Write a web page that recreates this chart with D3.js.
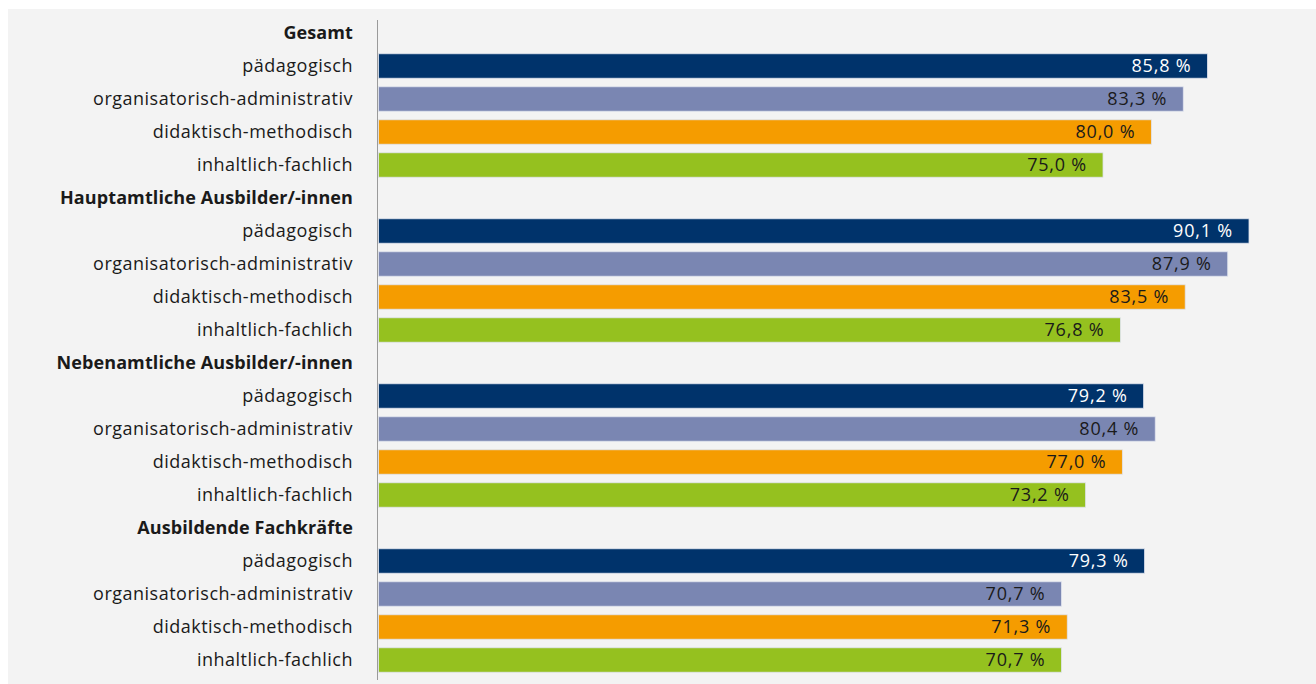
<!DOCTYPE html>
<html><head><meta charset="utf-8">
<script src="https://cdn.jsdelivr.net/npm/d3@7"></script>
<style>
body{margin:0;background:#fff;}
svg text{font-family:"Open Sans",sans-serif;}
</style></head>
<body><svg id="c" width="1316" height="684"></svg>
<script>
const groups = ["Gesamt","Hauptamtliche Ausbilder/-innen","Nebenamtliche Ausbilder/-innen","Ausbildende Fachkräfte"];
const categories = ["pädagogisch","organisatorisch-administrativ","didaktisch-methodisch","inhaltlich-fachlich"];
const valuesGesamt = [85.8, 83.3, 80.0, 75.0];
const valuesHaupt = [90.1, 87.9, 83.5, 76.8];
const valuesNeben = [79.2, 80.4, 77.0, 73.2];
const valuesFach = [79.3, 70.7, 71.3, 70.7];
const seriesValues = [valuesGesamt, valuesHaupt, valuesNeben, valuesFach];
const colors = ["#00336b","#7a86b2","#f59c00","#95c11f"];
const labelColors = ["#ffffff","#1a1a1a","#1a1a1a","#1a1a1a"];

const rows = [];
groups.forEach((g,gi)=>{
  rows.push({key:"h"+gi, header:true, label:g});
  categories.forEach((c,ci)=>rows.push({key:"r"+gi+"_"+ci, header:false, label:c, value:seriesValues[gi][ci], ci}));
});

const svg = d3.select("#c");
svg.append("rect").attr("x",8).attr("y",9).attr("width",1308).attr("height",675).attr("fill","#f3f3f3");

const x = d3.scaleLinear().domain([0,100]).range([378, 1344.7]);
const y = d3.scaleBand().domain(rows.map(r=>r.key)).range([16.5, 676.5]).paddingInner(0.26).paddingOuter(0.13);

svg.append("line").attr("x1",377.5).attr("x2",377.5).attr("y1",20).attr("y2",680).attr("stroke","#9a9a9a").attr("stroke-width",1);

const fmt = v => d3.format(".1f")(v).replace(".", ",") + " %";

const bars = rows.filter(r=>!r.header);
svg.selectAll("rect.bar").data(bars).join("rect").attr("class","bar")
  .attr("x", x(0)+0.5).attr("y", d=>y(d.key))
  .attr("width", d=>x(d.value)-x(0)-0.5).attr("height", y.bandwidth())
  .attr("fill", d=>colors[d.ci]).attr("stroke","#dfe3ee").attr("stroke-width",0.8);

svg.selectAll("text.cat").data(rows).join("text").attr("class","cat")
  .attr("x", 353).attr("y", d=>y(d.key)+y.bandwidth()/2).attr("dy","0.36em")
  .attr("text-anchor","end").attr("font-size",18)
  .attr("font-weight", d=>d.header?700:400)
  .attr("letter-spacing", d=>d.header?"0.1px":"0.5px")
  .attr("fill", "#1a1a1a").text(d=>d.label);

svg.selectAll("text.val").data(bars).join("text").attr("class","val")
  .attr("x", d=>x(d.value)-16).attr("y", d=>y(d.key)+y.bandwidth()/2).attr("dy","0.36em")
  .attr("text-anchor","end").attr("font-size",18).attr("letter-spacing","0.8px")
  .attr("fill", d=>labelColors[d.ci]).text(d=>fmt(d.value));
</script></body></html>
